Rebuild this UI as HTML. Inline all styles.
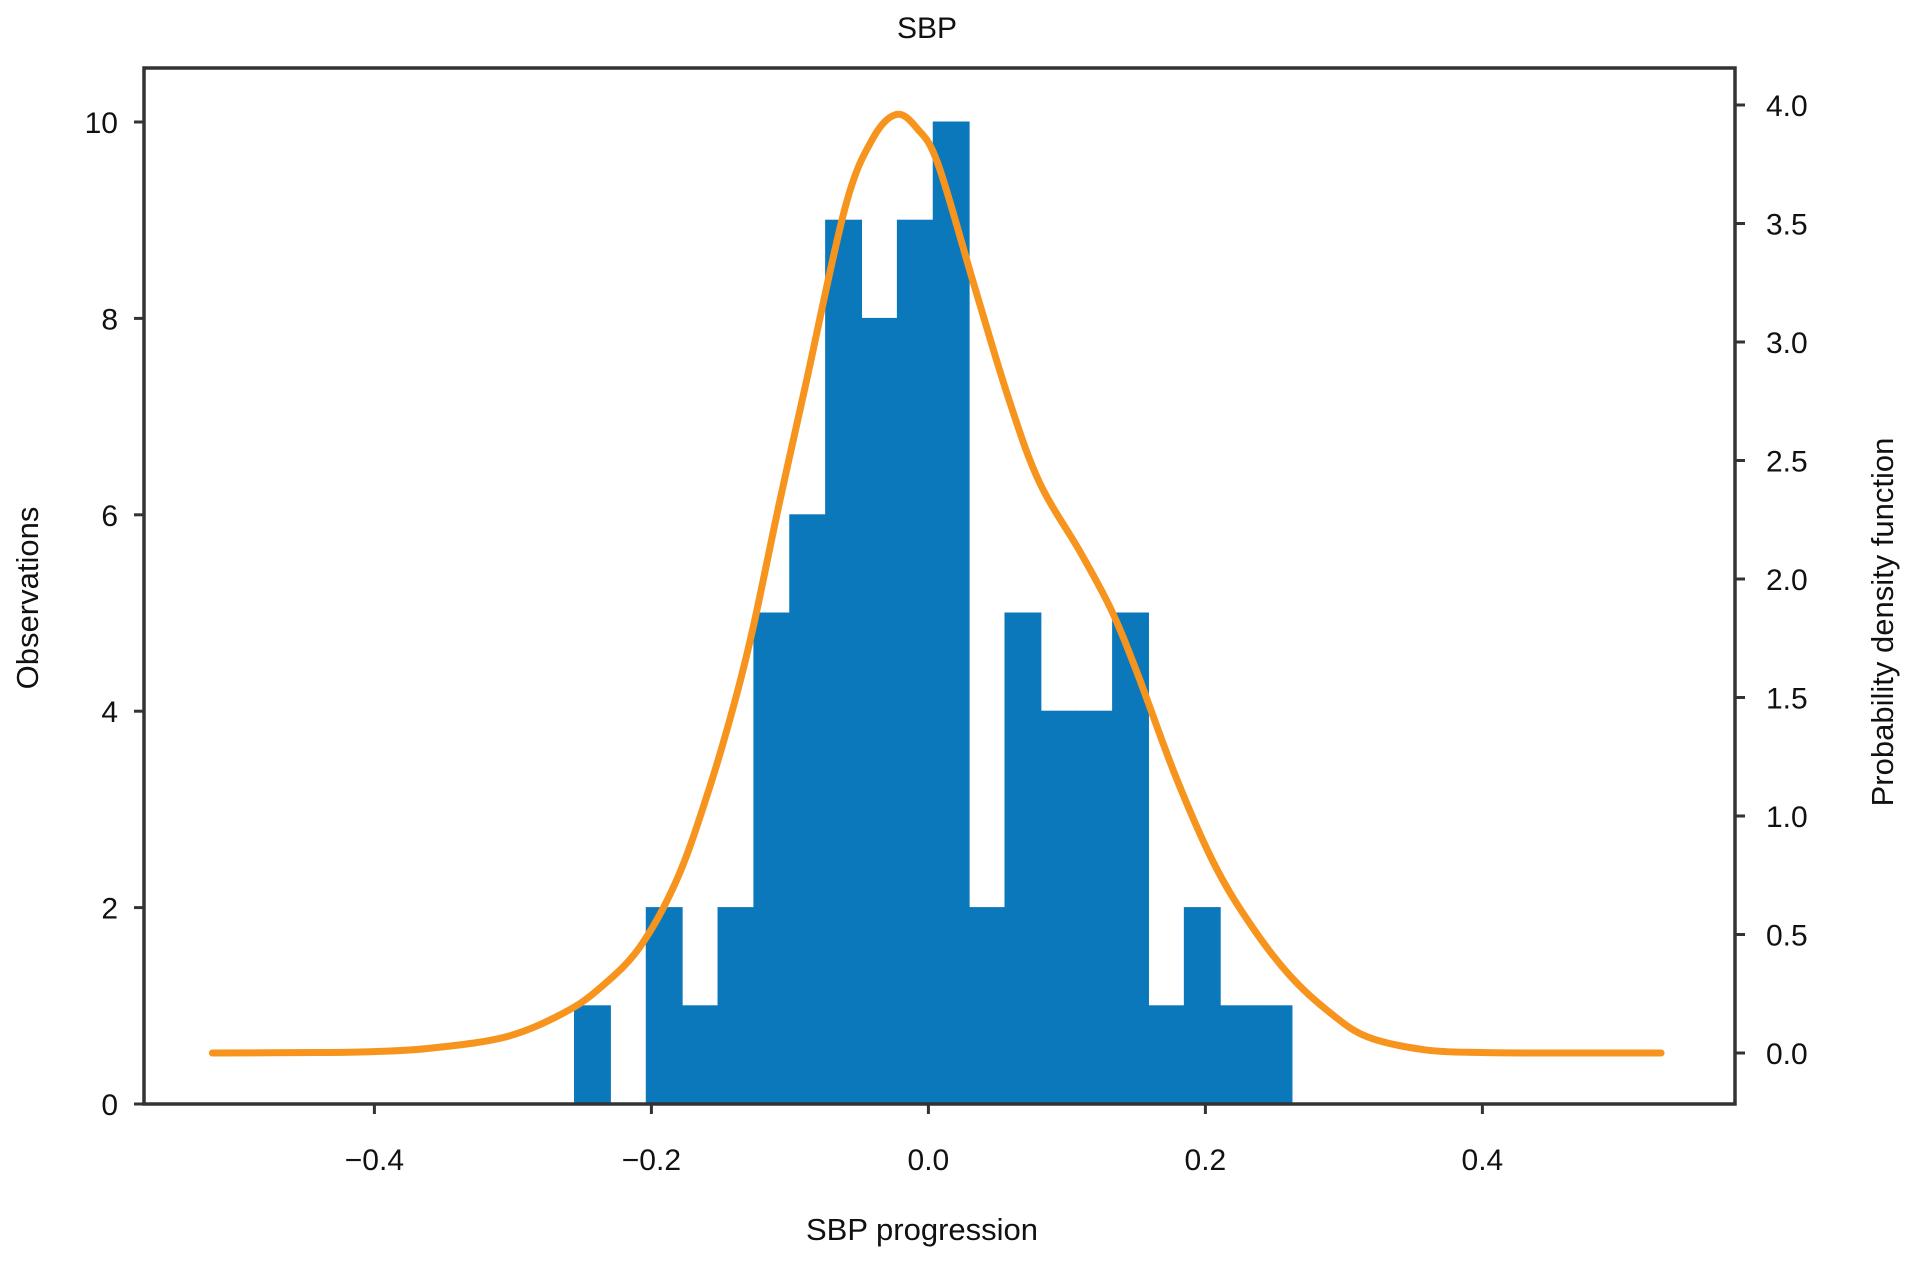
<!DOCTYPE html>
<html><head><meta charset="utf-8"><style>
html,body{margin:0;padding:0;background:#fff;}
svg{display:block;font-family:"Liberation Sans",sans-serif;}
</style></head><body>
<svg id="chart" width="1913" height="1261" viewBox="0 0 1913 1261">
<text x="927" y="38" font-size="30" text-anchor="middle" fill="#111">SBP</text>
<g id="bars"></g>
<path id="kde" fill="none" stroke="#f7941d" stroke-width="7" stroke-linejoin="round" stroke-linecap="round"/>
<rect x="144" y="68" width="1591" height="1036" fill="none" stroke="#333" stroke-width="3.5"/>
<g id="axes"></g>
<text x="922" y="1240" font-size="31" text-anchor="middle" fill="#111">SBP progression</text>
<text transform="translate(38,598) rotate(-90)" font-size="31" text-anchor="middle" fill="#111">Observations</text>
<text transform="translate(1893,622) rotate(-90)" font-size="31" text-anchor="middle" fill="#111">Probability density function</text>
</svg>
<script>
const binStart = -0.2555;
const binWidth = 0.0259;
const counts = [1,0,2,1,2,5,6,9,8,9,10,2,5,4,4,5,1,2,1,1];
const kdeX = [-0.517,-0.44,-0.40,-0.360,-0.305,-0.263,-0.236,-0.208,-0.181,-0.158,-0.139,-0.126,-0.108,-0.089,-0.060,-0.040,-0.023,-0.008,0.007,0.033,0.058,0.080,0.110,0.132,0.151,0.179,0.207,0.234,0.262,0.290,0.317,0.359,0.40,0.45,0.529];
const kdeY = [0,0.002,0.006,0.02,0.068,0.17,0.28,0.45,0.74,1.12,1.50,1.81,2.31,2.81,3.57,3.86,3.96,3.90,3.75,3.24,2.76,2.41,2.11,1.87,1.60,1.16,0.79,0.53,0.32,0.17,0.068,0.013,0.002,0,0];
const xTicks = [-0.4,-0.2,0.0,0.2,0.4];
const xTickLabels = ["\u22120.4","\u22120.2","0.0","0.2","0.4"];
const yTicks = [0,2,4,6,8,10];
const y2Ticks = [0,0.5,1,1.5,2,2.5,3,3.5,4];
const y2TickLabels = ["0.0","0.5","1.0","1.5","2.0","2.5","3.0","3.5","4.0"];

const sx = v => 928.4 + v*1385;
const sy = v => 1104 - v*98.2;
const sy2 = v => 1053 - v*237;
const NS = "http://www.w3.org/2000/svg";
const bars = document.getElementById('bars');
counts.forEach((c,i)=>{
  if(!c) return;
  const x0 = sx(binStart+i*binWidth), x1 = sx(binStart+(i+1)*binWidth);
  const r = document.createElementNS(NS,'rect');
  r.setAttribute('x',x0); r.setAttribute('width',x1-x0);
  r.setAttribute('y',sy(c)); r.setAttribute('height',sy(0)-sy(c));
  r.setAttribute('fill','#0a78bb');
  r.setAttribute('stroke','#0a78bb');
  r.setAttribute('stroke-width','1');
  
  
  bars.appendChild(r);
});
const pts = kdeX.map((x,i)=>[sx(x),sy2(kdeY[i])]);
let d = `M${pts[0][0]},${pts[0][1]}`;
for(let i=0;i<pts.length-1;i++){
  const p0=pts[Math.max(0,i-1)],p1=pts[i],p2=pts[i+1],p3=pts[Math.min(pts.length-1,i+2)];
  d+=` C${p1[0]+(p2[0]-p0[0])/6},${p1[1]+(p2[1]-p0[1])/6} ${p2[0]-(p3[0]-p1[0])/6},${p2[1]-(p3[1]-p1[1])/6} ${p2[0]},${p2[1]}`;
}
document.getElementById('kde').setAttribute('d',d);

const axes = document.getElementById('axes');
function line(x1,y1,x2,y2,name){
  const l=document.createElementNS(NS,'line');
  l.setAttribute('x1',x1);l.setAttribute('y1',y1);l.setAttribute('x2',x2);l.setAttribute('y2',y2);
  l.setAttribute('stroke','#333');l.setAttribute('stroke-width','3');
  
  
  axes.appendChild(l);
}
function text(x,y,s,anchor,name){
  const t=document.createElementNS(NS,'text');
  t.setAttribute('x',x);t.setAttribute('y',y);t.setAttribute('font-size','30');
  t.setAttribute('text-anchor',anchor);t.setAttribute('fill','#111');
  t.textContent=s;
  
  
  axes.appendChild(t);
}
xTicks.forEach((v,i)=>{ line(sx(v),1104,sx(v),1114,'x-tick'); text(sx(v),1170,xTickLabels[i],'middle','x-tick-label'); });
yTicks.forEach(v=>{ line(134,sy(v),144,sy(v),'y-tick'); text(118,sy(v)+11,String(v),'end','y-tick-label'); });
y2Ticks.forEach((v,i)=>{ line(1735,sy2(v),1745,sy2(v),'y2-tick'); text(1766,sy2(v)+11,y2TickLabels[i],'start','y2-tick-label'); });
</script>
</body></html>
